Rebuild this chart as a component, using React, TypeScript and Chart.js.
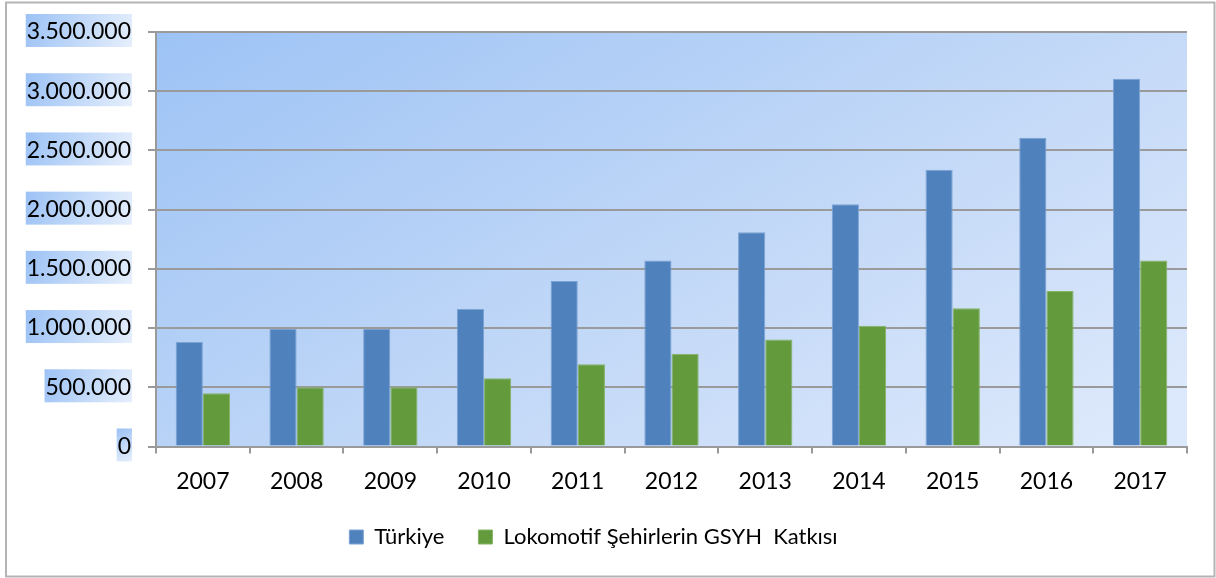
import React, { useEffect, useRef } from "react";
import { Chart, registerables } from "chart.js";
Chart.register(...registerables);

const years = ["2007", "2008", "2009", "2010", "2011", "2012", "2013", "2014", "2015", "2016", "2017"];
const turkiye = [883000, 995000, 995000, 1161000, 1397000, 1571000, 1809000, 2045000, 2337000, 2607000, 3105000];
const lokomotif = [449000, 500000, 500000, 576000, 694000, 784000, 904000, 1019000, 1168000, 1312000, 1570000];
const seriesNames = ["Türkiye", "Lokomotif Şehirlerin GSYH  Katkısı"];
const yMin = 0;
const yMax = 3500000;
const yStep = 500000;

const FONT = { family: "Lato", size: 23 };
const LEGEND_FONT = { family: "Lato", size: 22 };
const GRID = "#9A9A9A";

const fmt = (v: number) => String(Math.round(v)).replace(/\B(?=(\d{3})+(?!\d))/g, ".");

const bgPlugin = {
  id: "bgPlugin",
  beforeDraw(chart: any) {
    const { ctx, chartArea: a, width, height } = chart;
    ctx.save();
    ctx.fillStyle = "#ffffff";
    ctx.fillRect(0, 0, width, height);
    const g = ctx.createLinearGradient(a.left, a.top, a.left + 420, a.bottom + 300);
    g.addColorStop(0, "#9DC3F5");
    g.addColorStop(0.55, "#C0D7F7");
    g.addColorStop(1, "#DCE8FB");
    ctx.fillStyle = g;
    ctx.fillRect(a.left, a.top, a.right - a.left, a.bottom - a.top);
    // y label backdrops
    const ys = chart.scales.y;
    ctx.font = `${FONT.size}px ${FONT.family}`;
    const right = a.left - 8 - 17 + 1;
    ys.ticks.forEach((t: any, i: number) => {
      const label = String(t.label);
      const w = ctx.measureText(label).width;
      const py = ys.getPixelForTick(i);
      const x0 = right - w - 2;
      const y0 = py - 18;
      const h = 33;
      const lg = ctx.createLinearGradient(x0, y0, right, y0 + h);
      lg.addColorStop(0, "#9CC2F5");
      lg.addColorStop(1, "#E6EFFC");
      ctx.fillStyle = lg;
      ctx.fillRect(x0, y0, right - x0, h);
    });
    // outer border
    ctx.strokeStyle = "#B4B4B4";
    ctx.lineWidth = 2;
    ctx.strokeRect(6, 2.5, 1208.5, 574);
    ctx.restore();
  },
};

export default function App() {
  const ref = useRef<HTMLCanvasElement>(null);
  useEffect(() => {
    if (!ref.current) return;
    const chart = new Chart(ref.current, {
      type: "bar",
      data: {
        labels: years,
        datasets: [
          {
            label: seriesNames[0],
            data: turkiye,
            backgroundColor: "#4F81BD",
            borderColor: "#7BA3D4",
            borderWidth: 1,
            barPercentage: 1,
            categoryPercentage: 0.58,
          },
          {
            label: seriesNames[1],
            data: lokomotif,
            backgroundColor: "#629A3C",
            borderColor: "#86B364",
            borderWidth: 1,
            barPercentage: 1,
            categoryPercentage: 0.58,
          },
        ],
      },
      options: {
        responsive: false,
        animation: false,
        layout: { padding: { top: 32, right: 29, bottom: 20, left: 0 } },
        plugins: {
          legend: {
            position: "bottom",
            labels: { boxWidth: 14, boxHeight: 14, padding: 34, color: "#000", font: LEGEND_FONT },
          },
          tooltip: { enabled: false },
        },
        scales: {
          x: {
            grid: { display: true, drawOnChartArea: false, drawTicks: true, tickLength: 7, color: GRID, lineWidth: 2, offset: true },
            border: { display: true, color: GRID, width: 2 },
            ticks: { color: "#000", font: FONT, padding: 14, maxRotation: 0 },
            afterFit: (s: any) => {
              s.height = 45.5;
            },
          },
          y: {
            min: yMin,
            max: yMax,
            ticks: { stepSize: yStep, callback: (v: any) => fmt(Number(v)), padding: 17, color: "#000", font: FONT },
            grid: { color: GRID, lineWidth: 2, tickLength: 8 },
            border: { display: true, color: GRID, width: 2 },
            afterFit: (s: any) => {
              s.width = 156;
            },
          },
        },
      } as any,
      plugins: [bgPlugin],
    });
    return () => chart.destroy();
  }, []);
  return (
    <div style={{ position: "fixed", left: 0, top: 0, width: 1216, height: 578 }}>
      <canvas ref={ref} width={1216} height={578} style={{ display: "block" }} />
    </div>
  );
}
